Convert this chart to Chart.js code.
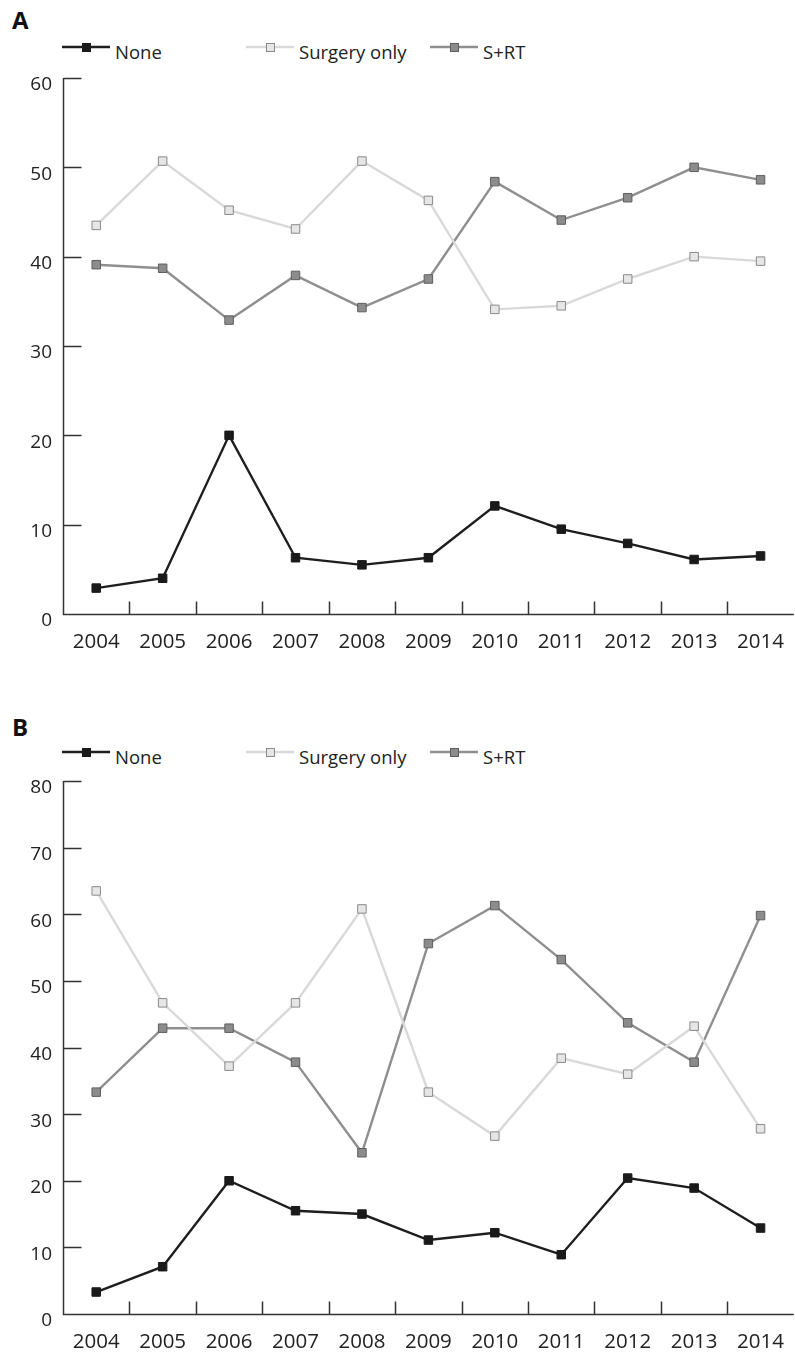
<!DOCTYPE html>
<html>
<head>
<meta charset="utf-8">
<script src="https://cdn.jsdelivr.net/npm/chart.js@4.4.0/dist/chart.umd.min.js"></script>
<style>
  body { margin: 0; width: 795px; height: 1355px; overflow: hidden; background: #fff; position: relative; font-family: 'Open Sans', sans-serif; color: #222; }
  .panel { position: absolute; left: 0; width: 800px; }
  .tag { position: absolute; left: 12px; font: bold 24px 'Open Sans', sans-serif; color: #111; }
  .legend { position: absolute; left: 62px; display: flex; }
  .item { width: 184px; display: flex; align-items: flex-start; font-size: 18.5px; line-height: 22px; }
  .item canvas { margin-right: 5px; }
</style>
</head>
<body>
<div class="tag" style="top:3px">A</div>
<div class="legend" id="legendA" style="top:38px"></div>
<div class="panel" style="top:0"><canvas id="chartA" width="800" height="680"></canvas></div>

<div class="tag" style="top:710px">B</div>
<div class="legend" id="legendB" style="top:743px"></div>
<div class="panel" style="top:680px"><canvas id="chartB" width="800" height="675"></canvas></div>

<script>
// ─── DATA ──────────────────────────────────
const years = ['2004', '2005', '2006', '2007', '2008', '2009', '2010', '2011', '2012', '2013', '2014'];
const seriesNames = ['None', 'Surgery only', 'S+RT'];

const noneA    = [2.9, 4.0, 20.0, 6.3, 5.5, 6.3, 12.1, 9.5, 7.9, 6.1, 6.5];
const surgeryA = [43.5, 50.7, 45.2, 43.1, 50.7, 46.3, 34.1, 34.5, 37.5, 40.0, 39.5];
const srtA     = [39.1, 38.7, 32.9, 37.9, 34.3, 37.5, 48.4, 44.1, 46.6, 50.0, 48.6];
const yTicksA  = [0, 10, 20, 30, 40, 50, 60];

const noneB    = [3.3, 7.1, 20.0, 15.5, 15.0, 11.1, 12.2, 8.9, 20.4, 18.9, 12.9];
const surgeryB = [63.5, 46.7, 37.2, 46.7, 60.8, 33.3, 26.7, 38.4, 36.0, 43.2, 27.8];
const srtB     = [33.3, 42.9, 42.9, 37.8, 24.2, 55.6, 61.3, 53.2, 43.7, 37.8, 59.8];
const yTicksB  = [0, 10, 20, 30, 40, 50, 60, 70, 80];

// ─── STYLE ─────────────────────────────────
const styles = [
  { line: '#1e1e1e', fill: '#1a1a1a', border: '#1a1a1a' },
  { line: '#d9d9d9', fill: '#e6e6e6', border: '#8a8a8a' },
  { line: '#8f8f8f', fill: '#8c8c8c', border: '#5e5e5e' },
];
const FONT = 'Open Sans';

function dataset(i, data) {
  const s = styles[i];
  return {
    label: seriesNames[i],
    data,
    borderColor: s.line,
    borderWidth: 2.4,
    tension: 0,
    pointStyle: 'rect',
    pointRadius: 6,
    pointBackgroundColor: s.fill,
    pointBorderColor: s.border,
    pointBorderWidth: 1,
  };
}

const axisLines = {
  id: 'axisLines',
  beforeDatasetsDraw(chart) {
    const { ctx, chartArea: { left, right, top, bottom }, scales: { x, y } } = chart;
    const l = Math.round(left) + 0.5, b = Math.round(bottom) + 0.5;
    ctx.save();
    ctx.strokeStyle = '#333';
    ctx.lineWidth = 1.5;
    ctx.beginPath();
    ctx.moveTo(l, top); ctx.lineTo(l, b); ctx.lineTo(right, b);
    y.ticks.forEach(t => {
      if (t.value === 0) return;
      const py = Math.round(y.getPixelForValue(t.value)) + 0.5;
      ctx.moveTo(l, py); ctx.lineTo(l + 18, py);
    });
    for (let i = 0; i < x.ticks.length - 1; i++) {
      const px = Math.round((x.getPixelForValue(i) + x.getPixelForValue(i + 1)) / 2) + 0.5;
      ctx.moveTo(px, b); ctx.lineTo(px, b - 13);
    }
    ctx.stroke();
    ctx.restore();
  }
};

function makeChart(id, sets, yTicks, padTop, xHeight) {
  const yMax = yTicks[yTicks.length - 1];
  return new Chart(document.getElementById(id), {
    type: 'line',
    data: { labels: years, datasets: sets.map((d, i) => dataset(i, d)) },
    options: {
      responsive: false,
      animation: false,
      layout: { padding: { top: padTop, left: 0, right: 0, bottom: 0 }, autoPadding: false },
      plugins: { legend: { display: false }, tooltip: { enabled: false } },
      scales: {
        x: {
          offset: true,
          grid: { display: false, drawTicks: false },
          border: { display: false },
          ticks: { color: '#222', font: { family: FONT, size: 20.5 }, padding: 16, maxRotation: 0, autoSkip: false },
          afterFit: s => { s.height = xHeight; }
        },
        y: {
          min: 0, max: yMax,
          afterBuildTicks: s => { s.ticks = yTicks.map(v => ({ value: v })); },
          grid: { display: false, drawTicks: false },
          border: { display: false },
          ticks: { color: '#222', font: { family: FONT, size: 19 }, padding: 11, labelOffset: 7 },
          afterFit: s => { s.width = 63; }
        }
      }
    },
    plugins: [axisLines]
  });
}

function renderLegend(id) {
  const el = document.getElementById(id);
  seriesNames.forEach((name, i) => {
    const s = styles[i];
    const item = document.createElement('div');
    item.className = 'item';
    const c = document.createElement('canvas');
    c.width = 48; c.height = 20;
    const ctx = c.getContext('2d');
    ctx.strokeStyle = s.line; ctx.lineWidth = 2.4;
    ctx.beginPath(); ctx.moveTo(0, 9); ctx.lineTo(48, 9); ctx.stroke();
    ctx.fillStyle = s.fill; ctx.fillRect(20, 5, 8, 8);
    ctx.strokeStyle = s.border; ctx.lineWidth = 1; ctx.strokeRect(20.5, 5.5, 8, 8);
    const t = document.createElement('span');
    t.textContent = name;
    t.style.paddingTop = '3px';
    item.appendChild(c); item.appendChild(t);
    el.appendChild(item);
  });
}

makeChart('chartA', [noneA, surgeryA, srtA], yTicksA, 78, 66);
makeChart('chartB', [noneB, surgeryB, srtB], yTicksB, 101, 41);
renderLegend('legendA');
renderLegend('legendB');
</script>
</body>
</html>
